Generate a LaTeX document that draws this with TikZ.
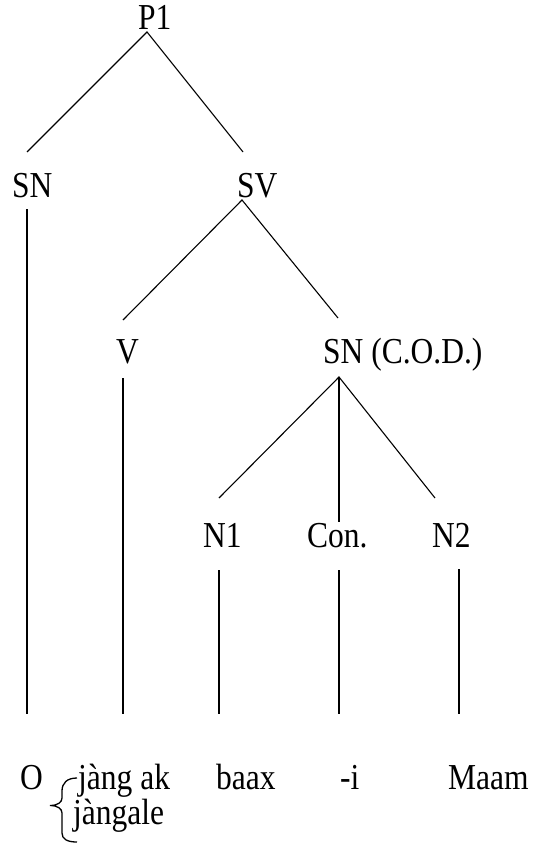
\documentclass[tikz,border=0pt]{standalone}
\usepackage{fontspec}
\setmainfont{Liberation Serif}
\newcommand{\vstretch}[1]{\scalebox{1}[1.16]{#1}}
\begin{document}
\begin{tikzpicture}[x=1pt,y=-1pt,
  lbl/.style={anchor=base west,inner sep=0pt,font=\fontsize{31.5}{36}\selectfont},
  edge/.style={line width=1.1pt,line cap=butt}]
\useasboundingbox (0,0) rectangle (540,845);
% labels
\node[lbl] (P1) at (138,30) {\vstretch{P1}};
\node[lbl] (SN) at (12,197) {\vstretch{SN}};
\node[lbl] (SV) at (237,197) {\vstretch{SV}};
\node[lbl] (V) at (116,363) {\vstretch{V}};
\node[lbl] (SNcod) at (323,363) {\vstretch{SN (C.O.D.)}};
\node[lbl] (N1) at (203,547) {\vstretch{N1}};
\node[lbl] (Con) at (307,547) {\vstretch{Con.}};
\node[lbl] (N2) at (432,547) {\vstretch{N2}};
\node[lbl] (wO) at (20,789) {\vstretch{O}};
\node[lbl] (wjang) at (78,789) {\vstretch{jàng ak}};
\node[lbl] (wjangale) at (73,824) {\vstretch{jàngale}};
\node[lbl] (wbaax) at (216,789) {\vstretch{baax}};
\node[lbl] (wi) at (340,789) {\vstretch{-i}};
\node[lbl] (wMaam) at (448,789) {\vstretch{Maam}};
% connector end points
\coordinate (p1a) at (147,32);
\coordinate (snT) at (27,152);
\coordinate (svT) at (243,152);
\coordinate (snB) at (27,209);
\coordinate (snE) at (27,714);
\coordinate (sva) at (242,200);
\coordinate (vT) at (123,320);
\coordinate (codT) at (338,318);
\coordinate (vB) at (123,378);
\coordinate (vE) at (123,714);
\coordinate (coda) at (339,377);
\coordinate (n1T) at (219,498);
\coordinate (conT) at (339,522);
\coordinate (n2T) at (435,498);
\coordinate (n1B) at (219,570);
\coordinate (n1E) at (219,714);
\coordinate (conB) at (339,570);
\coordinate (conE) at (339,714);
\coordinate (n2B) at (459,569);
\coordinate (n2E) at (459,714);
% tree lines
\draw[edge] (snT) -- (p1a) -- (svT);
\draw[edge] (snB) -- (snE);
\draw[edge] (vT) -- (sva) -- (codT);
\draw[edge] (vB) -- (vE);
\draw[edge] (n1T) -- (coda) -- (n2T);
\draw[edge] (coda) -- (conT);
\draw[edge] (n1B) -- (n1E);
\draw[edge] (conB) -- (conE);
\draw[edge] (n2B) -- (n2E);
% brace
\draw[line width=1.3pt] (77,778) .. controls (67,778) and (62,783) .. (62,791)
  -- (62,798) .. controls (62,802) and (58,805.5) .. (50,805.5)
  .. controls (58,805.5) and (62,809) .. (62,813)
  -- (62,833) .. controls (62,839) and (67,842) .. (77,842);
\end{tikzpicture}
\end{document}
